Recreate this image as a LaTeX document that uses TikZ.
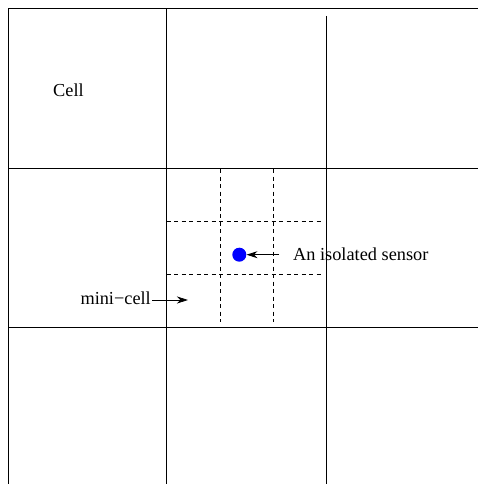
\documentclass[tikz,border=0pt]{standalone}
\usepackage{fontspec}
\setmainfont{Liberation Serif}
\usetikzlibrary{arrows.meta}
\tikzset{
  gridline/.style={line width=1pt, black},
  minigrid/.style={line width=0.8pt, black, dash pattern=on 4pt off 3.5pt},
  lbl/.style={inner sep=0pt, font=\fontsize{18.3}{22}\selectfont},
  pointer/.style={line width=0.8pt, -{Stealth[length=11pt, width=7pt, inset=3.5pt]}},
  sensordot/.style={circle, fill=blue, inner sep=0pt, minimum size=14pt}
}
\begin{document}
\begin{tikzpicture}[x=1pt, y=-1pt]
\useasboundingbox (0,0) rectangle (478,484);
% main grid
\draw[gridline] (8,484) -- (8,9) -- (478,9);
\draw[gridline] (166.5,9) -- (166.5,484);
\draw[gridline] (326,16) -- (326,484);
\draw[gridline] (8,168.5) -- (478,168.5);
\draw[gridline] (8,327) -- (478,327);
% mini-cells
\draw[minigrid] (220,169) -- (220,322);
\draw[minigrid] (273,169) -- (273,322);
\draw[minigrid] (166.5,221) -- (322,221);
\draw[minigrid] (166.5,274) -- (322,274);
% labels
\node[lbl, anchor=base west] (cell) at (53,97) {Cell};
\node[lbl, anchor=base east] (mc) at (151,304.5) {mini−cell};
\node[lbl, anchor=base west] (iso) at (293,260.7) {An isolated sensor};
% sensor
\node[sensordot] (sensor) at (239.3,254.7) {};
\coordinate (isostart) at (279,254.7);
\coordinate (mctip) at (188,300);
\coordinate (mcstart) at (152,300);
\draw[pointer] (isostart) -- (sensor);
\draw[pointer] (mcstart) -- (mctip);
\end{tikzpicture}
\end{document}
